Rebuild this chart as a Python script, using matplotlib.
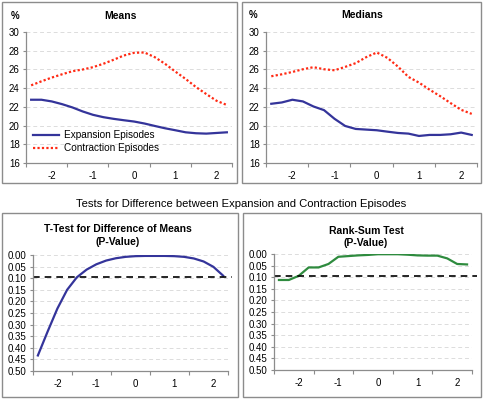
import matplotlib
matplotlib.use("Agg")
import matplotlib.pyplot as plt
from matplotlib.patches import Rectangle
from matplotlib.ticker import FixedLocator, FuncFormatter

plt.rcParams["font.family"] = ["Liberation Sans", "DejaVu Sans"]
plt.rcParams["axes.unicode_minus"] = False

# quarters relative to the turning point (years)
quarters = [-2.5, -2.25, -2.0, -1.75, -1.5, -1.25, -1.0, -0.75, -0.5, -0.25,
            0.0, 0.25, 0.5, 0.75, 1.0, 1.25, 1.5, 1.75, 2.0, 2.25]

mean_expansion = [22.76, 22.76, 22.58, 22.29, 21.94, 21.51, 21.15, 20.90, 20.72, 20.57,
                  20.43, 20.22, 19.96, 19.71, 19.50, 19.28, 19.18, 19.14, 19.21, 19.28]
mean_contraction = [24.30, 24.73, 25.13, 25.48, 25.81, 25.99, 26.24, 26.60, 27.03, 27.49,
                    27.78, 27.81, 27.31, 26.60, 25.77, 24.98, 24.12, 23.37, 22.65, 22.20]

median_expansion = [22.33, 22.47, 22.76, 22.58, 22.04, 21.65, 20.72, 19.96, 19.64, 19.57,
                    19.50, 19.35, 19.21, 19.14, 18.89, 19.00, 19.00, 19.07, 19.25, 19.00]
median_contraction = [25.27, 25.48, 25.73, 26.02, 26.24, 26.02, 25.91, 26.27, 26.67, 27.31,
                      27.81, 27.24, 26.31, 25.20, 24.59, 23.84, 23.15, 22.40, 21.68, 21.25]

ttest_p = [0.433, 0.330, 0.231, 0.150, 0.096, 0.063, 0.040, 0.024, 0.014, 0.008,
           0.005, 0.004, 0.004, 0.004, 0.005, 0.008, 0.015, 0.028, 0.051, 0.089]
ranksum_p = [0.112, 0.112, 0.094, 0.058, 0.058, 0.043, 0.012, 0.009, 0.006, 0.004,
             0.001, 0.001, 0.001, 0.003, 0.006, 0.007, 0.007, 0.019, 0.043, 0.045]

threshold = 0.095
year_labels = [-2, -1, 0, 1, 2]

BLUE = "#34349a"
RED = "#ff2a14"
GREEN = "#2e8b3e"
GREY = "#8c8c8c"

W, H = 483, 399
fig = plt.figure(figsize=(W / 100, H / 100), dpi=100)


def px_axes(x0, y0, x1, y1):
    return fig.add_axes([x0 / W, 1 - y1 / H, (x1 - x0) / W, (y1 - y0) / H])


def px_box(x0, y0, x1, y1):
    fig.patches.append(Rectangle((x0 / W, 1 - y1 / H), (x1 - x0) / W, (y1 - y0) / H,
                                 transform=fig.transFigure, fill=False,
                                 edgecolor=GREY, linewidth=1.0))


def px_text(x, y, s, **kw):
    fig.text(x / W, 1 - y / H, s, va="center", **kw)


def style_axes(ax, yticks, fmt):
    ax.set_xlim(-2.625, 2.375)
    for side in ("top", "right"):
        ax.spines[side].set_visible(False)
    for side in ("left", "bottom"):
        ax.spines[side].set_color(GREY)
        ax.spines[side].set_linewidth(0.9)
    ax.xaxis.set_major_locator(FixedLocator(year_labels))
    ax.xaxis.set_minor_locator(FixedLocator([-2.625, -1.625, -0.625, 0.375, 1.375, 2.375]))
    ax.tick_params(axis="x", which="major", length=0, labelsize=7, pad=6)
    ax.tick_params(axis="x", which="minor", length=3, color=GREY, width=0.8)
    ax.set_yticks(yticks)
    ax.yaxis.set_major_formatter(FuncFormatter(fmt))
    ax.tick_params(axis="y", length=2.5, color=GREY, width=0.8, labelsize=7, pad=2)
    ax.grid(axis="y", color="#dcdcdc", linestyle=(0, (4, 3)), linewidth=0.7)
    ax.set_axisbelow(True)


def pct(v, _):
    return f"{v:.0f}"


def pval(v, _):
    return f"{v:.2f}"


# panel frames
px_box(2, 2, 237, 183)
px_box(242, 2, 481, 183)
px_box(2, 213, 238, 397)
px_box(243, 213, 481, 397)

# Means
ax1 = px_axes(26, 32, 232, 163)
style_axes(ax1, range(16, 31, 2), pct)
ax1.set_ylim(16, 30)
ax1.plot(quarters, mean_expansion, color=BLUE, linewidth=1.6, label="Expansion Episodes")
ax1.plot(quarters, mean_contraction, color=RED, linewidth=1.6, linestyle=(0, (1, 1)),
         label="Contraction Episodes")
ax1.legend(loc="lower left", bbox_to_anchor=(0.0, 0.02), frameon=False, fontsize=7.2,
           handlelength=2.6, handletextpad=0.5, labelspacing=0.3, borderaxespad=0.3)
px_text(15, 16, "%", fontsize=7, fontweight="bold", ha="center")
px_text(120, 16, "Means", fontsize=7.5, fontweight="bold", ha="center")

# Medians
ax2 = px_axes(266, 32, 477, 163)
style_axes(ax2, range(16, 31, 2), pct)
ax2.set_ylim(16, 30)
ax2.plot(quarters, median_expansion, color=BLUE, linewidth=1.6)
ax2.plot(quarters, median_contraction, color=RED, linewidth=1.6, linestyle=(0, (1, 1)))
px_text(253, 15, "%", fontsize=7, fontweight="bold", ha="center")
px_text(362, 15, "Medians", fontsize=7.5, fontweight="bold", ha="center")

px_text(241, 204, "Tests for Difference between Expansion and Contraction Episodes",
        fontsize=8.1, ha="center")

p_ticks = [i * 0.05 for i in range(11)]

# T-test
ax3 = px_axes(33, 255, 228, 371)
style_axes(ax3, p_ticks, pval)
ax3.set_ylim(0.5, 0.0)
ax3.plot(quarters, ttest_p, color=BLUE, linewidth=1.6)
ax3.plot([-2.625, 2.475], [threshold, threshold], color="black", linewidth=1.2,
         linestyle=(0, (4, 3)), clip_on=False)
px_text(118, 229, "T-Test for Difference of Means", fontsize=7.5, fontweight="bold", ha="center")
px_text(118, 242, "(P-Value)", fontsize=7.5, fontweight="bold", ha="center")

# Rank-sum
ax4 = px_axes(274, 254, 472, 370)
style_axes(ax4, p_ticks, pval)
ax4.set_ylim(0.5, 0.0)
ax4.plot(quarters, ranksum_p, color=GREEN, linewidth=1.6)
ax4.plot([-2.625, 2.5], [threshold, threshold], color="black", linewidth=1.2,
         linestyle=(0, (4, 3)), clip_on=False)
px_text(366, 231, "Rank-Sum Test", fontsize=7.5, fontweight="bold", ha="center")
px_text(366, 243, "(P-Value)", fontsize=7.5, fontweight="bold", ha="center")

fig.savefig("out.png", dpi=100)
